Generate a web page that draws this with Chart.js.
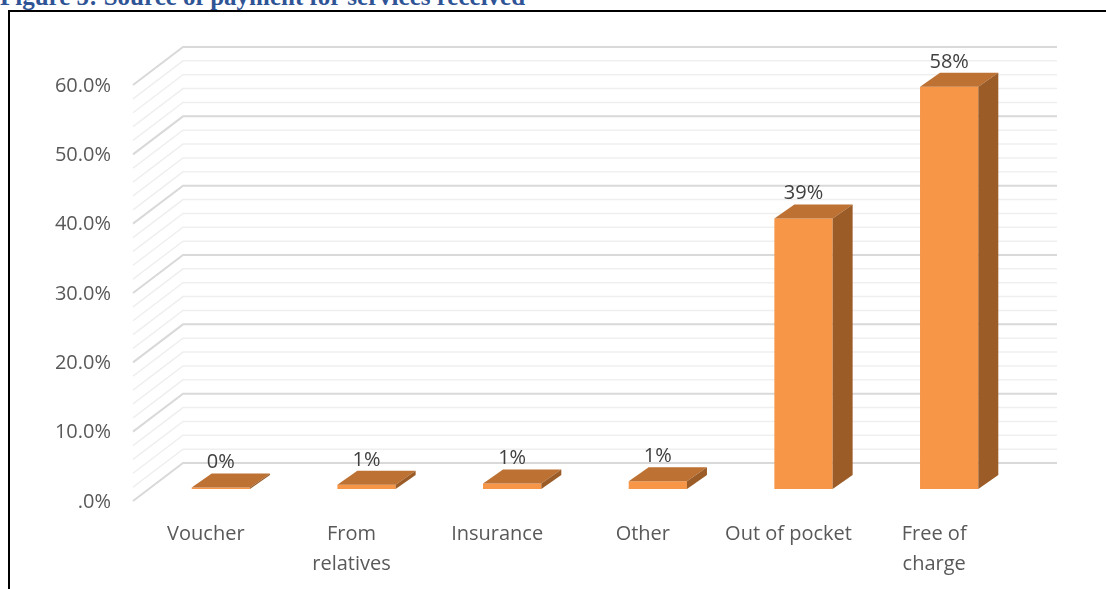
<!DOCTYPE html>
<html>
<head>
<meta charset="utf-8">
<title>Source of payment for services received</title>
<script src="https://cdn.jsdelivr.net/npm/chart.js@4"></script>
<style>
    html, body { margin: 0; padding: 0; background: #fff; overflow: hidden; }
    #frame {
        position: absolute; left: 8px; top: 10px; width: 1200px; height: 700px;
        border-left: 2px solid #000; border-top: 2px solid #000;
    }
    #caption {
        position: absolute; left: 0; top: -16px; margin: 0;
        font: bold 25px/1 "Liberation Serif", serif; color: #2f5496; white-space: nowrap;
    }
    #wrap { position: absolute; left: 0; top: 0; width: 1106px; height: 589px; }
</style>
</head>
<body>
<div id="frame"></div>
<p id="caption">Figure 5: Source of payment for services received</p>
<div id="wrap"><canvas id="paymentChart" width="1106" height="589"></canvas></div>
<script>
const categories = [["Voucher"], ["From", "relatives"], ["Insurance"], ["Other"], ["Out of pocket"], ["Free of", "charge"]];
const shares = [0.2, 0.6, 0.8, 1.1, 39, 58];
const yTickLabels = [".0%", "10.0%", "20.0%", "30.0%", "40.0%", "50.0%", "60.0%"];

// offsets from the bar front plane
const barDepth = { dx: 20, dy: -14 };
const wallBack = { dx: 35, dy: -26 };
const wallFront = { dx: -15, dy: 12 };

const faceColor = "#f79646";
const topColor = "#bd7132";
const sideColor = "#9b5c28";

const box3d = {
    id: "box3d",
    beforeDatasetsDraw(chart) {
        const { ctx, chartArea: a, scales: { y } } = chart;
        ctx.save();
        // back wall and left wall gridlines, minor every 2%
        for (let v = 0; v <= 60; v += 2) {
            const py = y.getPixelForValue(v);
            const major = v % 10 === 0;
            ctx.strokeStyle = major ? "#d9d9d9" : "#efefef";
            ctx.lineWidth = major ? 2 : 1.5;
            ctx.beginPath();
            ctx.moveTo(a.left + wallFront.dx, py + wallFront.dy);
            ctx.lineTo(a.left + wallBack.dx, py + wallBack.dy);
            ctx.lineTo(a.right + wallBack.dx, py + wallBack.dy);
            ctx.stroke();
        }
        ctx.restore();
    },
    afterDatasetsDraw(chart) {
        const { ctx } = chart;
        const meta = chart.getDatasetMeta(0);
        ctx.save();
        meta.data.forEach((bar, i) => {
            const l = bar.x - bar.width / 2;
            const r = bar.x + bar.width / 2;
            const t = bar.y;
            const b = bar.base;

            ctx.fillStyle = topColor;
            ctx.beginPath();
            ctx.moveTo(l, t);
            ctx.lineTo(r, t);
            ctx.lineTo(r + barDepth.dx, t + barDepth.dy);
            ctx.lineTo(l + barDepth.dx, t + barDepth.dy);
            ctx.closePath();
            ctx.fill();

            ctx.fillStyle = sideColor;
            ctx.beginPath();
            ctx.moveTo(r, t);
            ctx.lineTo(r + barDepth.dx, t + barDepth.dy);
            ctx.lineTo(r + barDepth.dx, b + barDepth.dy);
            ctx.lineTo(r, b);
            ctx.closePath();
            ctx.fill();

            ctx.fillStyle = "#404040";
            ctx.font = "20px 'Open Sans'";
            ctx.textAlign = "center";
            ctx.textBaseline = "middle";
            ctx.fillText(Math.round(shares[i]) + "%", bar.x, t - 25);
        });
        ctx.restore();
    }
};

const ctx = document.getElementById("paymentChart").getContext("2d");
new Chart(ctx, {
    type: "bar",
    data: {
        labels: categories,
        datasets: [{
            data: shares,
            backgroundColor: faceColor,
            borderWidth: 0,
            categoryPercentage: 1,
            barPercentage: 0.4
        }]
    },
    options: {
        responsive: false,
        animation: false,
        layout: { padding: { left: 0, top: 73, right: 84, bottom: 0 } },
        plugins: {
            legend: { display: false },
            tooltip: { enabled: false }
        },
        scales: {
            x: {
                grid: { display: false, drawTicks: false },
                border: { display: false },
                ticks: {
                    color: "#595959",
                    font: { family: "'Open Sans'", size: 20, lineHeight: 1.5 },
                    padding: 30,
                    labelOffset: wallFront.dx,
                    maxRotation: 0,
                    autoSkip: false
                },
                afterFit: scale => { scale.height = 100; }
            },
            y: {
                min: 0,
                max: 60,
                grid: { display: false, drawTicks: false },
                border: { display: false },
                ticks: {
                    stepSize: 10,
                    color: "#595959",
                    font: { family: "'Open Sans'", size: 20 },
                    padding: 37,
                    labelOffset: 13,
                    callback: (value, index) => yTickLabels[index]
                },
                afterFit: scale => { scale.width = 148; }
            }
        }
    },
    plugins: [box3d]
});
</script>
</body>
</html>
